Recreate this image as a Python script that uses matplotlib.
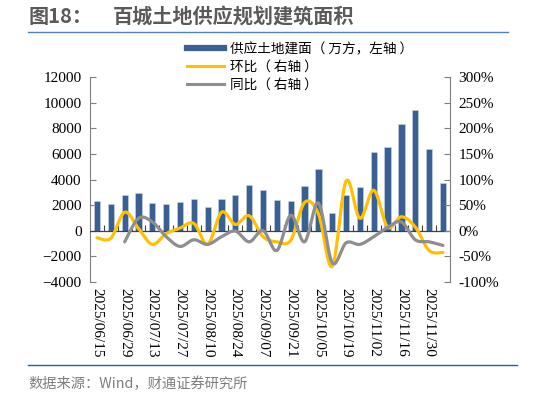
import numpy as np
import matplotlib
matplotlib.use("Agg")
import matplotlib.pyplot as plt
from matplotlib.lines import Line2D
import matplotlib.transforms as mtransforms

# ---------------- data ----------------
dates = ["2025/06/15", "2025/06/22", "2025/06/29", "2025/07/06", "2025/07/13", "2025/07/20",
         "2025/07/27", "2025/08/03", "2025/08/10", "2025/08/17", "2025/08/24", "2025/08/31",
         "2025/09/07", "2025/09/14", "2025/09/21", "2025/09/28", "2025/10/05", "2025/10/12",
         "2025/10/19", "2025/10/26", "2025/11/02", "2025/11/09", "2025/11/16", "2025/11/23",
         "2025/11/30", "2025/12/07"]
area = [2350, 2060, 2820, 2980, 2140, 2060, 2220, 2510, 1830, 2480, 2820, 3610, 3160,
        2430, 2300, 3530, 4810, 1410, 2770, 3400, 6140, 6560, 8340, 9440, 6380, 3690]
mom = [-14, -15, 36, 4, -27, -6, 5, 14, -27, 36, 12, 29, -12,
       -22, -19, 55, 33, -70, 97, 24, 79, 7, 27, 7, -39, -43]
yoy = [None, None, -22, 24, 17, -12, -31, -18, -27, -12, -1, -22, 0,
       -39, 30, -22, 54, -63, -24, -27, -12, 6, 17, -18, -22, -29]
left_ticks = [-4000, -2000, 0, 2000, 4000, 6000, 8000, 10000, 12000]
right_ticks = [-100, -50, 0, 50, 100, 150, 200, 250, 300]
labels = {"bar": "供应土地建面（ 万方，左轴 ）", "mom": "环比（ 右轴 ）", "yoy": "同比（ 右轴 ）"}
title_a = "图18："
title_b = "百城土地供应规划建筑面积"
source = "数据来源：Wind，财通证券研究所"

BLUE = "#3A5F93"
YELLOW = "#FFC000"
GRAY = "#8E8E8E"
CJK = ["Noto Sans CJK SC", "DejaVu Sans"]
SERIF = "Liberation Serif"


def smooth(xs, ys, n=20):
    """Catmull-Rom style smoothing through the data points (like Excel smoothed lines)."""
    xs = np.asarray(xs, float)
    ys = np.asarray(ys, float)
    out_x, out_y = [], []
    m = len(xs)
    for i in range(m - 1):
        p0 = (xs[max(i - 1, 0)], ys[max(i - 1, 0)])
        p1 = (xs[i], ys[i])
        p2 = (xs[i + 1], ys[i + 1])
        p3 = (xs[min(i + 2, m - 1)], ys[min(i + 2, m - 1)])
        c1 = (p1[0] + (p2[0] - p0[0]) / 6, p1[1] + (p2[1] - p0[1]) / 6)
        c2 = (p2[0] - (p3[0] - p1[0]) / 6, p2[1] - (p3[1] - p1[1]) / 6)
        t = np.linspace(0, 1, n, endpoint=(i == m - 2))
        bx = (1 - t) ** 3 * p1[0] + 3 * (1 - t) ** 2 * t * c1[0] + 3 * (1 - t) * t ** 2 * c2[0] + t ** 3 * p2[0]
        by = (1 - t) ** 3 * p1[1] + 3 * (1 - t) ** 2 * t * c1[1] + 3 * (1 - t) * t ** 2 * c2[1] + t ** 3 * p2[1]
        out_x.extend(bx)
        out_y.extend(by)
    return np.array(out_x), np.array(out_y)


fig = plt.figure(figsize=(5.33, 3.95), dpi=100)
ax = fig.add_axes([0.169, 0.287, 0.675, 0.517])
ax2 = ax.twinx()

x = np.arange(len(dates))
ax.bar(x, area, width=0.45, color=BLUE, edgecolor="#C9D5E8", linewidth=0.4, zorder=2)
ax.set_xlim(-0.5, len(dates) - 0.5)
ax.set_ylim(left_ticks[0], left_ticks[-1])
ax.set_yticks(left_ticks)
ax2.set_ylim(right_ticks[0], right_ticks[-1])
ax2.set_yticks(right_ticks)
ax2.set_yticklabels([f"{v}%" for v in right_ticks])

sx, sy = smooth(x, mom)
ax2.plot(sx, sy, color=YELLOW, lw=2.3, solid_capstyle="round", zorder=3)
yx = [xi for xi, v in zip(x, yoy) if v is not None]
yv = [v for v in yoy if v is not None]
gx, gy = smooth(yx, yv)
ax2.plot(gx, gy, color=GRAY, lw=2.3, solid_capstyle="round", zorder=3)

# spines / ticks
for a in (ax, ax2):
    a.spines["top"].set_visible(False)
    a.spines["bottom"].set_visible(False)
    a.spines["left"].set_color("#7F7F7F")
    a.spines["right"].set_color("#7F7F7F")
ax2.spines["left"].set_visible(False)
ax.spines["right"].set_visible(False)
ax.tick_params(axis="y", direction="in", length=4, color="#7F7F7F", labelsize=11, pad=6)
ax2.tick_params(axis="y", direction="in", length=4, color="#7F7F7F", labelsize=11, pad=6)
for lab in ax.get_yticklabels() + ax2.get_yticklabels():
    lab.set_fontfamily(SERIF)

# zero line with category ticks
ax.axhline(0, color="#404040", lw=0.9, zorder=4)
ax.set_xticks([])
tick_h = 400
ax.vlines(x[:-1] + 0.5, 0, tick_h, color="#404040", lw=0.8, zorder=4)

trans = mtransforms.blended_transform_factory(ax.transData, ax.transAxes)
for i in range(0, len(dates), 2):
    ax.text(x[i], -0.03, dates[i], rotation=270, ha="center", va="top",
            transform=trans, fontsize=11, family=SERIF)

# legend
handles = [Line2D([], [], color=BLUE, lw=4.5),
           Line2D([], [], color=YELLOW, lw=2.2),
           Line2D([], [], color=GRAY, lw=2.2)]
fig.legend(handles, [labels["bar"], labels["mom"], labels["yoy"]],
           loc="upper left", bbox_to_anchor=(0.351, 0.894), frameon=False,
           prop={"family": CJK, "size": 9.8}, handlelength=2.7, handletextpad=0.45,
           labelspacing=0.28, borderpad=0, borderaxespad=0)

# title & decorations
fig.text(0.053, 0.957, title_a, fontsize=14.5, fontweight="bold", color="#5A5A5A",
         family=CJK, va="center", ha="left")
fig.text(0.212, 0.957, title_b, fontsize=14.5, fontweight="bold", color="#5A5A5A",
         family=CJK, va="center", ha="left")
fig.add_artist(Line2D([28 / 533, 508 / 533], [1 - 32 / 395, 1 - 32 / 395], color="#4F81BD", lw=1.0))
fig.add_artist(Line2D([28 / 533, 517 / 533], [1 - 365 / 395, 1 - 365 / 395], color="#1F5FAD", lw=1.0))
fig.text(28 / 533, 1 - 384 / 395, source, fontsize=10.3, color="#7F7F7F", family=CJK,
         va="center", ha="left")

fig.savefig("out.png", dpi=100)
